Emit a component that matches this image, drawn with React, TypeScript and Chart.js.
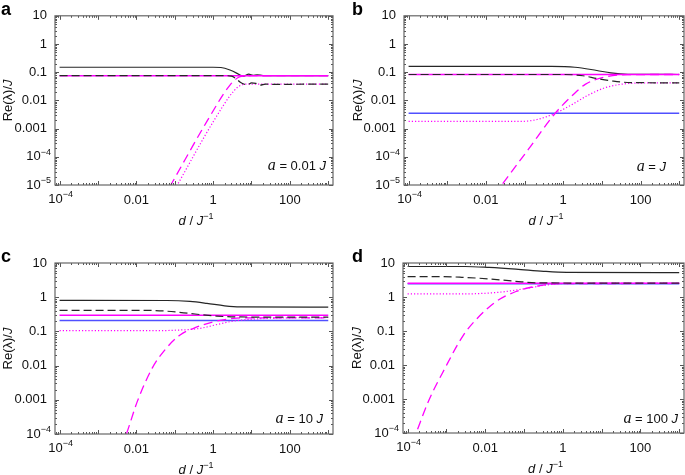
import React, { useEffect, useRef } from 'react';
import { Chart, registerables } from 'chart.js';
Chart.register(...registerables);

type Pt = [number, number];

// ---------- axes ----------
const X_MIN = 7.6e-5;
const X_MAX = 1330;
const xTickValues = [1e-4, 1e-2, 1, 100];
const xTickLabels = ['10^−4', '0.01', '1', '100'];
const yTickValuesTop = [1e-5, 1e-4, 1e-3, 1e-2, 0.1, 1, 10];
const yTickLabelsTop = ['10^−5', '10^−4', '0.001', '0.01', '0.1', '1', '10'];
const yTickValuesBottom = [1e-4, 1e-3, 1e-2, 0.1, 1, 10];
const yTickLabelsBottom = ['10^−4', '0.001', '0.01', '0.1', '1', '10'];

// ---------- panel a (a = 0.01 J) ----------
const aBlackSolid: Pt[] = [[1e-4, 0.15], [1, 0.15], [1.6, 0.147], [2.75, 0.12], [4.2, 0.091], [5, 0.079], [6.3, 0.073], [8.5, 0.085], [11, 0.078], [14, 0.081], [20, 0.076], [1000, 0.076]];
const aBlackDash: Pt[] = [[1e-4, 0.075], [2, 0.075], [3, 0.073], [4, 0.058], [5, 0.045], [6.3, 0.038], [8, 0.036], [10, 0.042], [13, 0.04], [17, 0.035], [23, 0.038], [30, 0.037], [1000, 0.038]];
const aMagSolid: Pt[] = [[1e-4, 0.075], [1000, 0.075]];
const aMagDash: Pt[] = [[0.032, 1.2e-6], [0.079, 1e-5], [0.69, 0.0018], [2.75, 0.035], [4.5, 0.065], [6.3, 0.073], [10, 0.075], [1000, 0.075]];
const aMagDot: Pt[] = [[0.04, 7.4e-7], [0.117, 1e-5], [1.07, 0.002], [3.5, 0.022], [5.2, 0.034], [7.4, 0.038], [1000, 0.038]];

// ---------- panel b (a = J) ----------
const bBlackSolid: Pt[] = [[1e-4, 0.16], [0.5, 0.16], [2, 0.15], [7.4, 0.115], [17, 0.095], [30, 0.088], [80, 0.084], [1000, 0.083]];
const bBlackDash: Pt[] = [[1e-4, 0.083], [1, 0.083], [3.2, 0.075], [7.4, 0.06], [20, 0.048], [55, 0.043], [1000, 0.042]];
const bMagSolid: Pt[] = [[1e-4, 0.083], [1000, 0.083]];
const bMagDash: Pt[] = [[0.0063, 6.9e-7], [0.0257, 1e-5], [0.126, 1.86e-4], [0.62, 0.0035], [1.86, 0.0166], [3.7, 0.037], [11, 0.066], [45, 0.082], [1000, 0.083]];
const bMagDot: Pt[] = [[1e-4, 0.0018], [0.076, 0.0018], [0.21, 0.0021], [0.62, 0.0035], [1.5, 0.0065], [4.1, 0.0145], [11, 0.027], [30, 0.037], [81, 0.041], [1000, 0.042]];
const bBlue: Pt[] = [[1e-4, 0.0035], [1000, 0.0035]];

// ---------- panel c (a = 10 J) ----------
const cBlackSolid: Pt[] = [[1e-4, 0.81], [0.063, 0.8], [0.25, 0.75], [0.69, 0.66], [2, 0.56], [5, 0.52], [1000, 0.51]];
const cBlackDash: Pt[] = [[1e-4, 0.41], [0.023, 0.41], [0.063, 0.39], [0.17, 0.35], [1.26, 0.28], [4, 0.265], [1000, 0.26]];
const cMagSolid: Pt[] = [[1e-4, 0.295], [1000, 0.295]];
const cMagDash: Pt[] = [[0.004, 4.3e-5], [0.0055, 1e-4], [0.0105, 8.7e-4], [0.0257, 0.0083], [0.051, 0.0257], [0.138, 0.079], [0.31, 0.123], [1, 0.19], [3.4, 0.24], [10, 0.25], [1000, 0.25]];
const cMagDot: Pt[] = [[1e-4, 0.105], [0.023, 0.105], [0.1, 0.108], [0.46, 0.123], [1.3, 0.16], [3.4, 0.2], [25, 0.24], [1000, 0.255]];
const cBlue: Pt[] = [[1e-4, 0.21], [1000, 0.21]];

// ---------- panel d (a = 100 J) ----------
const dBlackSolid: Pt[] = [[1e-4, 7.9], [0.003, 7.9], [0.0126, 7.4], [0.062, 6.6], [0.32, 5.7], [1.26, 5.3], [1000, 5.2]];
const dBlackDash: Pt[] = [[1e-4, 4.0], [6.3e-4, 4.0], [0.0025, 3.8], [0.0126, 3.4], [0.06, 2.9], [0.25, 2.6], [1000, 2.55]];
const dMagSolid: Pt[] = [[1e-4, 2.52], [1000, 2.52]];
const dMagDash: Pt[] = [[1e-4, 2.2e-5], [1.66e-4, 1e-4], [3.4e-4, 8.3e-4], [9.1e-4, 0.0079], [0.00275, 0.076], [0.0062, 0.234], [0.0186, 0.72], [0.062, 1.45], [0.31, 2.24], [1, 2.48], [1000, 2.5]];
const dMagDot: Pt[] = [[1e-4, 1.23], [0.0025, 1.23], [0.023, 1.38], [0.062, 1.6], [0.166, 1.93], [0.37, 2.25], [0.83, 2.45], [3, 2.5], [1000, 2.5]];
const dBlue: Pt[] = [[1e-4, 2.47], [1000, 2.47]];

// ---------- styles & layout ----------
const SANS = '"Liberation Sans", Arial, Helvetica, sans-serif';
const SERIF = '"Liberation Serif", "Times New Roman", serif';
const TEXT = '#111';

type Kind = 'blackSolid' | 'blackDash' | 'magSolid' | 'magDash' | 'magDot' | 'blue';
const STYLE: Record<Kind, any> = {
  blackSolid: { borderColor: '#262626', borderWidth: 1.2, borderDash: [] },
  blackDash: { borderColor: '#262626', borderWidth: 1.2, borderDash: [8, 4] },
  magSolid: { borderColor: '#ff00ff', borderWidth: 1.5, borderDash: [] },
  magDash: { borderColor: '#ff00ff', borderWidth: 1.3, borderDash: [9, 5] },
  magDot: { borderColor: '#ff00ff', borderWidth: 1.2, borderDash: [1.2, 2] },
  blue: { borderColor: '#5050ff', borderWidth: 1.5, borderDash: [] },
};

type PanelCfg = {
  letter: string;
  left: number; top: number; w: number; h: number;
  area: { l: number; r: number; t: number; b: number };
  yMin: number; yMax: number;
  yVals: number[]; yLabels: string[];
  note: string; noteX: number; noteY: number;
  letterX: number; letterY: number; yTitleX: number;
  series: { kind: Kind; pts: Pt[] }[];
};

const PANELS: PanelCfg[] = [
  {
    letter: 'a', left: 0, top: 0, w: 342, h: 237,
    area: { l: 55, r: 333, t: 14, b: 185 }, yMin: 1e-5, yMax: 10,
    yVals: yTickValuesTop, yLabels: yTickLabelsTop,
    note: ' = 0.01 ', noteX: 326, noteY: 170, letterX: 1, letterY: 15, yTitleX: 8,
    series: [
      { kind: 'blackDash', pts: aBlackDash }, { kind: 'magSolid', pts: aMagSolid },
      { kind: 'magDash', pts: aMagDash }, { kind: 'magDot', pts: aMagDot },
      { kind: 'blackSolid', pts: aBlackSolid },
    ],
  },
  {
    letter: 'b', left: 342, top: 0, w: 343, h: 237,
    area: { l: 62, r: 342, t: 14, b: 185 }, yMin: 1e-5, yMax: 10,
    yVals: yTickValuesTop, yLabels: yTickLabelsTop,
    note: ' = ', noteX: 324, noteY: 171, letterX: 10, letterY: 15, yTitleX: 16,
    series: [
      { kind: 'blackDash', pts: bBlackDash }, { kind: 'magSolid', pts: bMagSolid },
      { kind: 'magDash', pts: bMagDash }, { kind: 'magDot', pts: bMagDot },
      { kind: 'blackSolid', pts: bBlackSolid }, { kind: 'blue', pts: bBlue },
    ],
  },
  {
    letter: 'c', left: 0, top: 237, w: 342, h: 238,
    area: { l: 55, r: 333, t: 26, b: 197 }, yMin: 1e-4, yMax: 10,
    yVals: yTickValuesBottom, yLabels: yTickLabelsBottom,
    note: ' = 10 ', noteX: 323, noteY: 186, letterX: 1, letterY: 25, yTitleX: 8,
    series: [
      { kind: 'blackDash', pts: cBlackDash }, { kind: 'magSolid', pts: cMagSolid },
      { kind: 'magDash', pts: cMagDash }, { kind: 'magDot', pts: cMagDot },
      { kind: 'blackSolid', pts: cBlackSolid }, { kind: 'blue', pts: cBlue },
    ],
  },
  {
    letter: 'd', left: 342, top: 237, w: 343, h: 238,
    area: { l: 61, r: 342, t: 26, b: 196 }, yMin: 1e-4, yMax: 10,
    yVals: yTickValuesBottom, yLabels: yTickLabelsBottom,
    note: ' = 100 ', noteX: 336, noteY: 186, letterX: 10, letterY: 25, yTitleX: 15,
    series: [
      { kind: 'blackDash', pts: dBlackDash }, { kind: 'magSolid', pts: dMagSolid },
      { kind: 'magDash', pts: dMagDash }, { kind: 'magDot', pts: dMagDot },
      { kind: 'blackSolid', pts: dBlackSolid }, { kind: 'blue', pts: dBlue },
    ],
  },
];

type Run = { t: string; f: string; dy?: number };
function drawRuns(ctx: CanvasRenderingContext2D, runs: Run[], x: number, y: number, align: 'left' | 'center' | 'right') {
  const widths = runs.map((r) => { ctx.font = r.f; return ctx.measureText(r.t).width; });
  const total = widths.reduce((s, w) => s + w, 0);
  let cx = align === 'left' ? x : align === 'center' ? x - total / 2 : x - total;
  ctx.textAlign = 'left';
  runs.forEach((r, i) => { ctx.font = r.f; ctx.fillText(r.t, cx, y + (r.dy || 0)); cx += widths[i]; });
}

function findLabel(vals: number[], labels: string[], v: number) {
  const i = vals.findIndex((t) => Math.abs(Math.log10(t) - Math.log10(v)) < 1e-6);
  return i >= 0 ? labels[i] : '';
}
// plain labels are drawn by Chart.js; power labels (with '^') are drawn with a real superscript
const plainLabel = (vals: number[], labels: string[], v: number) => {
  const s = findLabel(vals, labels, v);
  return s.includes('^') ? '' : s;
};
const powerRuns = (s: string, dySup: number): Run[] => {
  const [base, exp] = s.split('^');
  return [
    { t: base, f: `13px ${SANS}` },
    { t: exp, f: `9px ${SANS}`, dy: dySup },
  ];
};

function Panel({ cfg }: { cfg: PanelCfg }) {
  const ref = useRef<HTMLCanvasElement>(null);
  useEffect(() => {
    const canvas = ref.current;
    if (!canvas) return;
    const { area, w, h } = cfg;

    const decor = {
      id: 'decor',
      afterDraw(chart: any) {
        const ctx: CanvasRenderingContext2D = chart.ctx;
        const ca = chart.chartArea;
        const xs = chart.scales.x;
        const ys = chart.scales.y;
        ctx.save();
        // minor / major inward ticks
        ctx.strokeStyle = '#555';
        ctx.lineWidth = 1;
        ctx.beginPath();
        for (let e = Math.floor(Math.log10(X_MIN)); e <= Math.ceil(Math.log10(X_MAX)); e++) {
          for (let m = 1; m <= 9; m++) {
            const v = m * Math.pow(10, e);
            if (v < X_MIN || v > X_MAX) continue;
            const px = Math.round(xs.getPixelForValue(v)) + 0.5;
            const len = m === 1 ? 4 : 2;
            ctx.moveTo(px, ca.bottom); ctx.lineTo(px, ca.bottom - len);
            ctx.moveTo(px, ca.top); ctx.lineTo(px, ca.top + len);
          }
        }
        for (let e = Math.floor(Math.log10(cfg.yMin)); e <= Math.ceil(Math.log10(cfg.yMax)); e++) {
          for (let m = 1; m <= 9; m++) {
            const v = m * Math.pow(10, e);
            if (v < cfg.yMin * 0.999 || v > cfg.yMax * 1.001) continue;
            const py = Math.round(ys.getPixelForValue(v)) + 0.5;
            const len = m === 1 ? 4 : 2;
            ctx.moveTo(ca.left, py); ctx.lineTo(ca.left + len, py);
            ctx.moveTo(ca.right, py); ctx.lineTo(ca.right - len, py);
          }
        }
        ctx.stroke();
        // frame
        ctx.strokeStyle = '#666';
        ctx.lineWidth = 1.2;
        ctx.strokeRect(ca.left, ca.top, ca.right - ca.left, ca.bottom - ca.top);

        ctx.fillStyle = TEXT;
        // power-of-ten tick labels
        ctx.textBaseline = 'top';
        xTickValues.forEach((v, i) => {
          const s = xTickLabels[i];
          if (!s.includes('^')) return;
          drawRuns(ctx, powerRuns(s, -3), xs.getPixelForValue(v) + 1, ca.bottom + 8, 'center');
        });
        ctx.textBaseline = 'middle';
        cfg.yVals.forEach((v, i) => {
          const s = cfg.yLabels[i];
          if (!s.includes('^')) return;
          drawRuns(ctx, powerRuns(s, -4), ca.left - 4, ys.getPixelForValue(v), 'right');
        });

        ctx.textBaseline = 'alphabetic';
        // x title
        drawRuns(ctx, [
          { t: 'd', f: `italic 13px ${SANS}` },
          { t: ' / ', f: `13px ${SANS}` },
          { t: 'J', f: `italic 13px ${SANS}` },
          { t: '−1', f: `9px ${SANS}`, dy: -6 },
        ], (ca.left + ca.right) / 2 + 2, ca.bottom + 40, 'center');
        // y title
        ctx.save();
        ctx.translate(cfg.yTitleX, (ca.top + ca.bottom) / 2);
        ctx.rotate(-Math.PI / 2);
        ctx.textBaseline = 'middle';
        drawRuns(ctx, [
          { t: 'Re(λ)/', f: `13px ${SANS}` },
          { t: 'J', f: `italic 13px ${SANS}` },
        ], 0, 0, 'center');
        ctx.restore();
        // annotation
        ctx.textBaseline = 'alphabetic';
        drawRuns(ctx, [
          { t: 'a', f: `italic 16px ${SERIF}` },
          { t: cfg.note, f: `13px ${SANS}` },
          { t: 'J', f: `italic 13px ${SANS}` },
        ], cfg.noteX, cfg.noteY, 'right');
        // panel letter
        ctx.fillStyle = '#000';
        ctx.font = `bold 18px ${SANS}`;
        ctx.textAlign = 'left';
        ctx.fillText(cfg.letter, cfg.letterX, cfg.letterY);
        ctx.restore();
      },
    };

    const chart = new Chart(canvas, {
      type: 'line',
      data: {
        datasets: cfg.series.map((s) => ({
          data: s.pts.map(([x, y]) => ({ x, y })),
          ...STYLE[s.kind],
          pointRadius: 0,
          pointHoverRadius: 0,
          fill: false,
          cubicInterpolationMode: 'monotone',
          borderCapStyle: 'butt',
        })),
      },
      options: {
        animation: false,
        responsive: false,
        maintainAspectRatio: false,
        events: [],
        layout: { padding: { left: 0, top: area.t, right: w - area.r, bottom: 0 } },
        plugins: { legend: { display: false }, tooltip: { enabled: false } },
        scales: {
          x: {
            type: 'logarithmic',
            min: X_MIN,
            max: X_MAX,
            grid: { display: false, drawTicks: false },
            border: { display: false },
            ticks: {
              autoSkip: false, maxRotation: 0, padding: 8, color: TEXT,
              font: { family: SANS, size: 13 },
              callback: (v: any) => plainLabel(xTickValues, xTickLabels, Number(v)),
            },
            afterBuildTicks: (s: any) => { s.ticks = xTickValues.map((v) => ({ value: v })); },
            afterFit: (s: any) => { s.height = h - area.b; },
          },
          y: {
            type: 'logarithmic',
            min: cfg.yMin,
            max: cfg.yMax,
            grid: { display: false, drawTicks: false },
            border: { display: false },
            ticks: {
              autoSkip: false, padding: 8, color: TEXT,
              font: { family: SANS, size: 13 },
              callback: (v: any) => plainLabel(cfg.yVals, cfg.yLabels, Number(v)),
            },
            afterBuildTicks: (s: any) => { s.ticks = cfg.yVals.map((v) => ({ value: v })); },
            afterFit: (s: any) => { s.width = area.l; },
          },
        },
      } as any,
      plugins: [decor],
    });
    return () => chart.destroy();
  }, [cfg]);

  return (
    <canvas
      ref={ref}
      width={cfg.w}
      height={cfg.h}
      style={{ position: 'absolute', left: cfg.left, top: cfg.top, width: cfg.w, height: cfg.h }}
    />
  );
}

export default function App() {
  return (
    <div style={{ position: 'absolute', left: 0, top: 0, width: 685, height: 475, background: '#fff', overflow: 'hidden' }}>
      {PANELS.map((p) => <Panel key={p.letter} cfg={p} />)}
    </div>
  );
}
